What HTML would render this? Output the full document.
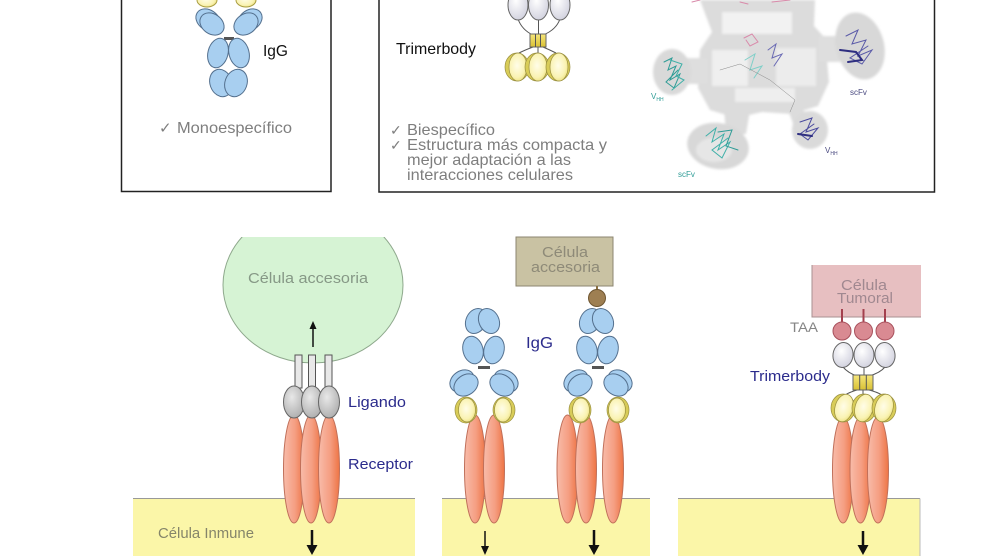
<!DOCTYPE html>
<html><head><meta charset="utf-8"><style>
html,body{margin:0;padding:0;background:#fff;}
svg{display:block;}
text{font-family:"Liberation Sans",Arial,sans-serif;}
</style></head><body>
<svg width="990" height="556" viewBox="0 0 990 556" xmlns="http://www.w3.org/2000/svg">
<defs>
 <linearGradient id="sal" x1="0" x2="1" y1="0" y2="0">
  <stop offset="0" stop-color="#f8bcaa"/><stop offset="0.55" stop-color="#f59e82"/><stop offset="1" stop-color="#ee7444"/>
 </linearGradient>
 <radialGradient id="yel" cx="0.45" cy="0.45" r="0.6">
  <stop offset="0" stop-color="#fffde8"/><stop offset="0.7" stop-color="#faf3b4"/><stop offset="1" stop-color="#ece07e"/>
 </radialGradient>
 <radialGradient id="wht" cx="0.4" cy="0.35" r="0.75">
  <stop offset="0" stop-color="#ffffff"/><stop offset="1" stop-color="#cdcddb"/>
 </radialGradient>
 <radialGradient id="gry" cx="0.4" cy="0.35" r="0.75">
  <stop offset="0" stop-color="#e8e8e8"/><stop offset="1" stop-color="#a9a9a9"/>
 </radialGradient>
 <linearGradient id="bar" x1="0" x2="0" y1="0" y2="1">
  <stop offset="0" stop-color="#f6e67c"/><stop offset="1" stop-color="#d8c034"/>
 </linearGradient>
 <clipPath id="gclip"><rect x="0" y="237" width="990" height="400"/></clipPath>
 <filter id="soft" x="-20%" y="-20%" width="140%" height="140%"><feGaussianBlur stdDeviation="1.3"/></filter>
</defs>

<rect width="990" height="556" fill="#fff"/>

<!-- ============ TOP LEFT BOX ============ -->
<path d="M121.5 0 V191.5 H331 V0" fill="none" stroke="#222" stroke-width="1.5"/>
<g stroke="#54708e" stroke-width="1" fill="#a8cff0">
 <ellipse cx="207" cy="0" rx="10" ry="7" fill="url(#yel)" stroke="#a89c40"/>
 <ellipse cx="246" cy="0" rx="10" ry="7" fill="url(#yel)" stroke="#a89c40"/>
 <ellipse cx="208" cy="20" rx="13" ry="10" transform="rotate(35 208 20)"/>
 <ellipse cx="212" cy="24" rx="13" ry="10" transform="rotate(35 212 24)"/>
 <ellipse cx="250" cy="20" rx="13" ry="10" transform="rotate(-35 250 20)"/>
 <ellipse cx="246" cy="24" rx="13" ry="10" transform="rotate(-35 246 24)"/>
 <rect x="224" y="37" width="10" height="3" fill="#555" stroke="none"/>
 <ellipse cx="218" cy="53" rx="10" ry="15" transform="rotate(15 218 53)"/>
 <ellipse cx="239" cy="53" rx="10" ry="15" transform="rotate(-15 239 53)"/>
 <ellipse cx="221" cy="83" rx="11" ry="14" transform="rotate(-20 221 83)"/>
 <ellipse cx="236" cy="83" rx="11" ry="14" transform="rotate(20 236 83)"/>
</g>
<text x="263" y="56" font-size="16" fill="#111" textLength="25" lengthAdjust="spacingAndGlyphs">IgG</text>
<text x="159" y="133" font-size="15" fill="#7e7e7e">✓</text>
<text x="177" y="133" font-size="16" fill="#7e7e7e" textLength="115" lengthAdjust="spacingAndGlyphs">Monoespecífico</text>

<!-- ============ TOP RIGHT BOX ============ -->
<path d="M379 0 V192 H934.5 V0" fill="none" stroke="#222" stroke-width="1.5"/>
<text x="396" y="54" font-size="16" fill="#111" textLength="80" lengthAdjust="spacingAndGlyphs">Trimerbody</text>
<g stroke="#555" stroke-width="1" fill="none">
 <path d="M518 19 Q522 30 533 35"/><path d="M538.5 20 V35"/><path d="M560 19 Q556 30 543 35"/>
 <path d="M533 47 Q525 50 519 53"/><path d="M538 47 V53"/><path d="M543 47 Q550 50 556 53"/>
</g>
<g stroke="#666" stroke-width="1" fill="url(#wht)">
 <ellipse cx="518" cy="5" rx="10" ry="15"/>
 <ellipse cx="538.5" cy="5" rx="10" ry="15"/>
 <ellipse cx="560" cy="5" rx="10" ry="15"/>
</g>
<rect x="530" y="34" width="16" height="13" fill="url(#bar)" stroke="#666"/>
<path d="M535.5 34 V47 M540.5 34 V47" stroke="#555" stroke-width="1"/>
<g stroke="#9a9040" stroke-width="0.7">
 <ellipse cx="517" cy="67" rx="12" ry="14" fill="#d8cc58"/>
 <ellipse cx="518" cy="67" rx="9" ry="14" fill="url(#yel)"/>
 <ellipse cx="537" cy="67" rx="12" ry="14" fill="#d8cc58"/>
 <ellipse cx="538" cy="67" rx="9" ry="14" fill="url(#yel)"/>
 <ellipse cx="558" cy="67" rx="12" ry="14" fill="#d8cc58"/>
 <ellipse cx="559" cy="67" rx="9" ry="14" fill="url(#yel)"/>
</g>
<text x="390" y="135" font-size="14" fill="#7e7e7e">✓</text>
<text x="390" y="150" font-size="14" fill="#7e7e7e">✓</text>
<g font-size="16" fill="#7e7e7e">
 <text x="407" y="135" textLength="88" lengthAdjust="spacingAndGlyphs">Biespecífico</text>
 <text x="407" y="150" textLength="200" lengthAdjust="spacingAndGlyphs">Estructura más compacta y</text>
 <text x="407" y="165" textLength="164" lengthAdjust="spacingAndGlyphs">mejor adaptación a las</text>
 <text x="407" y="180" textLength="166" lengthAdjust="spacingAndGlyphs">interacciones celulares</text>
</g>

<!-- protein structure -->
<g filter="url(#soft)">
 <path d="M700 0 L815 0 L814 26 L825 38 L829 82 L818 106 L792 114 L762 112 L736 118 L710 110 L698 88 L700 50 L712 32 Z" fill="#dcdcdc"/>
 <rect x="686" y="58" width="22" height="26" fill="#dedede"/>
 <ellipse cx="672" cy="72" rx="19" ry="23" fill="#d9d9d9"/>
 <rect x="818" y="36" width="22" height="26" fill="#dedede"/>
 <ellipse cx="860" cy="46" rx="24" ry="34" fill="#d8d8d8" transform="rotate(-15 860 46)"/>
 <path d="M786 104 L806 112 L812 128 L796 132 Z" fill="#dcdcdc"/>
 <ellipse cx="810" cy="130" rx="18" ry="19" fill="#dadada"/>
 <path d="M724 108 L750 110 L746 134 L726 134 Z" fill="#dcdcdc"/>
 <ellipse cx="718" cy="146" rx="31" ry="23" fill="#d8d8d8" transform="rotate(10 718 146)"/>
 <rect x="722" y="12" width="70" height="22" fill="#f2f2f2"/>
 <rect x="712" y="50" width="36" height="36" fill="#efefef"/>
 <rect x="776" y="48" width="40" height="38" fill="#ececec"/>
 <rect x="735" y="88" width="60" height="14" fill="#eeeeee"/>
 <ellipse cx="714" cy="150" rx="18" ry="12" fill="#e6e6e6"/>
</g>
<g fill="none" stroke-width="1" stroke-linecap="round">
 <path d="M664 62 L672 58 L668 70 L676 66 L670 80 L680 74 L674 88 L666 82 L678 70" stroke="#2f9c96"/>
 <path d="M670 60 L682 64 L676 76 L684 80 L672 90" stroke="#3fb0a8"/>
 <path d="M706 136 L716 128 L712 142 L724 134 L718 150 L730 142 L722 158 L712 150 L728 138" stroke="#3fb0a8"/>
 <path d="M718 132 L732 130 L726 146 L738 150" stroke="#2f9c96"/>
 <path d="M745 60 L755 54 L750 70 L762 66 L754 78" stroke="#7fcfc8"/>
 <path d="M846 36 L858 30 L852 44 L866 40 L858 56 L872 50 L862 64 L850 58 L868 46" stroke="#5a5aa8"/>
 <path d="M840 50 L856 52 L862 60 L848 62" stroke="#2e2e80" stroke-width="2"/>
 <path d="M800 122 L812 118 L806 132 L818 128 L808 140 L800 134 L814 124" stroke="#4a4a9e"/>
 <path d="M798 134 L812 136" stroke="#2e2e80" stroke-width="2"/>
 <path d="M768 50 L776 44 L772 58 L782 54 L774 66" stroke="#6a6ab4"/>
 <path d="M744 38 L752 34 L758 42 L750 46 L746 40" stroke="#d98aaa"/>
 <path d="M692 2 L700 0 M772 2 L790 0 M740 2 L748 4" stroke="#d98aaa"/>
 <path d="M720 70 L740 64 L770 80 L795 100 L790 112" stroke="#888" stroke-width="0.5"/>
</g>
<g font-size="8">
 <text x="651" y="99" fill="#2f9c96">V<tspan font-size="5" dy="2">HH</tspan></text>
 <text x="850" y="95" fill="#4a4a80">scFv</text>
 <text x="825" y="153" fill="#4a4a80">V<tspan font-size="5" dy="2">HH</tspan></text>
 <text x="678" y="177" fill="#2f9c96">scFv</text>
</g>

<!-- ============ BOTTOM PANELS: yellow bands ============ -->
<g fill="#fbf6a8">
 <rect x="133" y="498" width="282" height="60"/>
 <rect x="442" y="498" width="208" height="60"/>
 <rect x="678" y="498" width="242" height="60"/>
</g>
<g stroke="#999" stroke-width="1">
 <path d="M133 498.5 H415"/><path d="M442 498.5 H650"/><path d="M678 498.5 H920"/>
</g>
<path d="M920 498.5 V556" stroke="#bbb" stroke-width="1"/>

<!-- ===== Panel 1 ===== -->
<ellipse cx="313" cy="285" rx="90" ry="78" fill="#d6f3d4" stroke="#8ea88c" stroke-width="1" clip-path="url(#gclip)"/>
<text x="248" y="283" font-size="15" fill="#869886" textLength="120" lengthAdjust="spacingAndGlyphs">Célula accesoria</text>
<path d="M313 347 V327" stroke="#111" stroke-width="1.5"/>
<path d="M309.5 329 L313 321 L316.5 329 Z" fill="#111"/>
<g fill="#e8e8e8" stroke="#555" stroke-width="1">
 <rect x="295" y="355" width="7" height="33"/>
 <rect x="308.5" y="355" width="7" height="33"/>
 <rect x="325" y="355" width="7" height="33"/>
</g>
<g stroke="#c0705a" stroke-width="1" fill="url(#sal)">
 <ellipse cx="294" cy="469" rx="10.5" ry="54"/>
 <ellipse cx="311" cy="469" rx="10.5" ry="54"/>
 <ellipse cx="329" cy="469" rx="10.5" ry="54"/>
</g>
<g stroke="#666" stroke-width="1" fill="url(#gry)">
 <ellipse cx="294" cy="402" rx="10.5" ry="16"/>
 <ellipse cx="312" cy="402" rx="10.5" ry="16"/>
 <ellipse cx="329" cy="402" rx="10.5" ry="16"/>
</g>
<text x="348" y="407" font-size="15" fill="#2b2b8c" textLength="58" lengthAdjust="spacingAndGlyphs">Ligando</text>
<text x="348" y="469" font-size="15" fill="#2b2b8c" textLength="65" lengthAdjust="spacingAndGlyphs">Receptor</text>
<text x="158" y="538" font-size="15" fill="#85856a" textLength="96" lengthAdjust="spacingAndGlyphs">Célula Inmune</text>
<path d="M312 530 V548" stroke="#111" stroke-width="2.5"/>
<path d="M306.5 545 L312 555 L317.5 545 Z" fill="#111"/>

<!-- ===== Panel 2 ===== -->
<rect x="516" y="237" width="97" height="49" fill="#c9c2a3" stroke="#8c8670" stroke-width="1"/>
<text x="565" y="257" font-size="15" fill="#8e8a78" text-anchor="middle" textLength="46" lengthAdjust="spacingAndGlyphs">Célula</text>
<text x="565.5" y="272" font-size="15" fill="#8e8a78" text-anchor="middle" textLength="69" lengthAdjust="spacingAndGlyphs">accesoria</text>
<path d="M597 286 V291" stroke="#8a7040" stroke-width="2"/>
<circle cx="597" cy="298" r="8.5" fill="#9e7f52" stroke="#6e5530" stroke-width="1"/>

<g stroke="#c0705a" stroke-width="1" fill="url(#sal)">
 <ellipse cx="475" cy="469" rx="10.5" ry="54"/>
 <ellipse cx="494" cy="469" rx="10.5" ry="54"/>
 <ellipse cx="567.5" cy="469" rx="10.5" ry="54"/>
 <ellipse cx="586" cy="469" rx="10.5" ry="54"/>
 <ellipse cx="613" cy="469" rx="10.5" ry="54"/>
</g>

<g id="igg">
 <g stroke="#54708e" stroke-width="1" fill="#a8cff0">
  <ellipse cx="476" cy="321" rx="10" ry="13" transform="rotate(25 476 321)"/>
  <ellipse cx="489" cy="321" rx="10" ry="13" transform="rotate(-25 489 321)"/>
  <ellipse cx="473" cy="350" rx="10" ry="14" transform="rotate(-15 473 350)"/>
  <ellipse cx="494" cy="350" rx="10" ry="14" transform="rotate(15 494 350)"/>
  <ellipse cx="462" cy="381" rx="13" ry="10" transform="rotate(-35 462 381)"/>
  <ellipse cx="466" cy="385" rx="13" ry="10" transform="rotate(-35 466 385)"/>
  <ellipse cx="506" cy="381" rx="13" ry="10" transform="rotate(35 506 381)"/>
  <ellipse cx="502" cy="385" rx="13" ry="10" transform="rotate(35 502 385)"/>
 </g>
 <rect x="478" y="366" width="12" height="3" fill="#555"/>
 <g stroke="#9a9040" stroke-width="0.7">
  <ellipse cx="466" cy="410" rx="11" ry="13" fill="#d8cc58"/>
  <ellipse cx="467" cy="410" rx="8.5" ry="12" fill="url(#yel)"/>
  <ellipse cx="504" cy="410" rx="11" ry="13" fill="#d8cc58"/>
  <ellipse cx="503" cy="410" rx="8.5" ry="12" fill="url(#yel)"/>
 </g>
</g>
<use href="#igg" transform="translate(114 0)"/>
<text x="526" y="348" font-size="16" fill="#2b2b8c" textLength="27" lengthAdjust="spacingAndGlyphs">IgG</text>

<path d="M485 531 V549" stroke="#111" stroke-width="1.5"/>
<path d="M481 546 L485 555 L489 546 Z" fill="#111"/>
<path d="M594 530 V548" stroke="#111" stroke-width="2.5"/>
<path d="M588.5 545 L594 555 L599.5 545 Z" fill="#111"/>

<!-- ===== Panel 3 ===== -->
<rect x="812" y="265" width="109" height="52" fill="#e7bfc1"/>
<path d="M812 265 V317 H921" fill="none" stroke="#a89092" stroke-width="1"/>
<text x="864" y="290" font-size="15" fill="#a08890" text-anchor="middle" textLength="46" lengthAdjust="spacingAndGlyphs">Célula</text>
<text x="865" y="303" font-size="15" fill="#a08890" text-anchor="middle" textLength="56" lengthAdjust="spacingAndGlyphs">Tumoral</text>
<g stroke="#a3404e" stroke-width="2">
 <path d="M842 309 V323"/><path d="M863.5 309 V323"/><path d="M885 309 V323"/>
</g>
<g fill="#d98a92" stroke="#a8505c" stroke-width="1">
 <circle cx="842" cy="331" r="9"/><circle cx="863.5" cy="331" r="9"/><circle cx="885" cy="331" r="9"/>
</g>
<text x="790" y="332" font-size="14" fill="#858585" textLength="28" lengthAdjust="spacingAndGlyphs">TAA</text>
<text x="750" y="381" font-size="15" fill="#2b2b8c" textLength="80" lengthAdjust="spacingAndGlyphs">Trimerbody</text>

<g stroke="#c0705a" stroke-width="1" fill="url(#sal)">
 <ellipse cx="843" cy="470" rx="10.5" ry="53"/>
 <ellipse cx="860.5" cy="470" rx="10.5" ry="53"/>
 <ellipse cx="878" cy="470" rx="10.5" ry="53"/>
</g>
<g stroke="#555" stroke-width="1" fill="none">
 <path d="M843 367 Q848 373 857 376"/><path d="M864 368 V376"/><path d="M885 367 Q880 373 869 376"/>
 <path d="M857 390 Q850 392 845 395"/><path d="M863 390 V394"/><path d="M869 390 Q877 392 882 395"/>
</g>
<g stroke="#666" stroke-width="1" fill="url(#wht)">
 <ellipse cx="843" cy="355" rx="10" ry="12.5" transform="rotate(8 843 355)"/>
 <ellipse cx="864" cy="355" rx="10" ry="12.5"/>
 <ellipse cx="885" cy="355" rx="10" ry="12.5" transform="rotate(-8 885 355)"/>
</g>
<rect x="853" y="375" width="20" height="15" fill="url(#bar)" stroke="#666"/>
<path d="M859.7 375 V390 M866.3 375 V390" stroke="#555" stroke-width="1"/>
<g stroke="#9a9040" stroke-width="0.7">
 <ellipse cx="843" cy="408" rx="12" ry="14" fill="#d8cc58"/>
 <ellipse cx="844" cy="408" rx="9" ry="14" fill="url(#yel)" transform="rotate(15 844 408)"/>
 <ellipse cx="864" cy="408" rx="12" ry="14" fill="#d8cc58"/>
 <ellipse cx="864" cy="408" rx="9" ry="14" fill="url(#yel)" transform="rotate(15 864 408)"/>
 <ellipse cx="884" cy="408" rx="12" ry="14" fill="#d8cc58"/>
 <ellipse cx="884" cy="408" rx="9" ry="14" fill="url(#yel)" transform="rotate(15 884 408)"/>
</g>
<path d="M863 531 V548" stroke="#111" stroke-width="2.5"/>
<path d="M857.5 545 L863 555 L868.5 545 Z" fill="#111"/>
</svg>
</body></html>
